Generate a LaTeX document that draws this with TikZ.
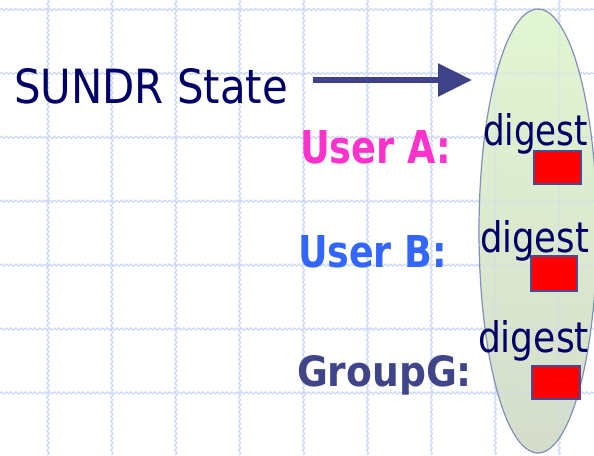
\documentclass[tikz,border=0pt]{standalone}
\usepackage{fontspec}
\setmainfont{DejaVu Sans}
\usetikzlibrary{decorations.pathmorphing,arrows.meta,shapes.geometric}
\definecolor{navy}{HTML}{000066}
\definecolor{usera}{HTML}{FF33CC}
\definecolor{userb}{HTML}{3366FF}
\definecolor{groupg}{HTML}{404488}
\definecolor{arrowblue}{HTML}{3F4189}
\definecolor{gridblue}{HTML}{CCD8F8}
\definecolor{boxedge}{HTML}{4A4A90}
\definecolor{ovaledge}{HTML}{8090B8}
\definecolor{ovaltop}{HTML}{E2F6D2}
\definecolor{ovalbottom}{HTML}{D5DCCC}
\begin{document}
\begin{tikzpicture}[x=0.75pt,y=-0.75pt,
  gridline/.style={draw=gridblue, line width=0.9pt, decorate,
    decoration={snake, segment length=3.6pt, amplitude=0.8pt}},
  lbl/.style={anchor=base west, inner sep=0pt, outer sep=0pt},
  hashbox/.style={draw=boxedge, fill=red, line width=1.5pt, inner sep=0pt},
  bigarrow/.style={draw=arrowblue, line width=4.5pt,
    -{Triangle[length=25.5pt, width=24pt]}, fill=arrowblue}]
\useasboundingbox (0,0) rectangle (594,455);
\fill[white] (0,0) rectangle (594,455);
% wavy background grid
\foreach \i in {0,...,8}
  \draw[gridline] ({48+63.9*\i},0) -- ({48+63.9*\i},455);
\foreach \j in {0,...,6}
  \draw[gridline] (0,{9.5+63.9*\j}) -- (594,{9.5+63.9*\j});
% state container
\node[ellipse, minimum width=88.5pt, minimum height=333pt, inner sep=0pt,
  top color=ovaltop, bottom color=ovalbottom] (store) at (538,231) {};
\begin{scope}
  \clip (538,231) ellipse [x radius=44.25pt, y radius=166.5pt];
  \foreach \i in {0,...,8}
    \draw[gridline, opacity=0.4] ({48+63.9*\i},0) -- ({48+63.9*\i},455);
  \foreach \j in {0,...,6}
    \draw[gridline, opacity=0.4] (0,{9.5+63.9*\j}) -- (594,{9.5+63.9*\j});
\end{scope}
\draw[ovaledge, line width=0.9pt] (538,231) ellipse [x radius=44.25pt, y radius=166.5pt];
% title and arrow
\node[lbl, text=navy] (title) at (14,103) {\resizebox{205.5pt}{26.25pt}{SUNDR State}};
\coordinate (arrowfrom) at (313,80);
\coordinate (arrowto) at (472,80);
\draw[bigarrow] (arrowfrom) -- (arrowto);
% principals
\node[lbl, text=usera] (ua) at (300,163) {\resizebox{113.25pt}{24.75pt}{\bfseries User A:}};
\node[lbl, text=userb] (ub) at (298,267) {\resizebox{111.75pt}{24pt}{\bfseries User B:}};
\node[lbl, text=groupg] (gg) at (297,386) {\resizebox{131.25pt}{23.25pt}{\bfseries GroupG:}};
% digests
\node[lbl, text=navy] (da) at (483,145) {\resizebox{78.75pt}{24pt}{digest}};
\node[lbl, text=navy] (db) at (480,252) {\resizebox{81.75pt}{24pt}{digest}};
\node[lbl, text=navy] (dg) at (478,352) {\resizebox{83.25pt}{24pt}{digest}};
\node[hashbox, minimum width=35.5pt, minimum height=25pt] (ha) at (557.5,167.5) {};
\node[hashbox, minimum width=34.5pt, minimum height=26.5pt] (hb) at (554,273.5) {};
\node[hashbox, minimum width=36pt, minimum height=25pt] (hg) at (556,382.5) {};
\end{tikzpicture}
\end{document}
